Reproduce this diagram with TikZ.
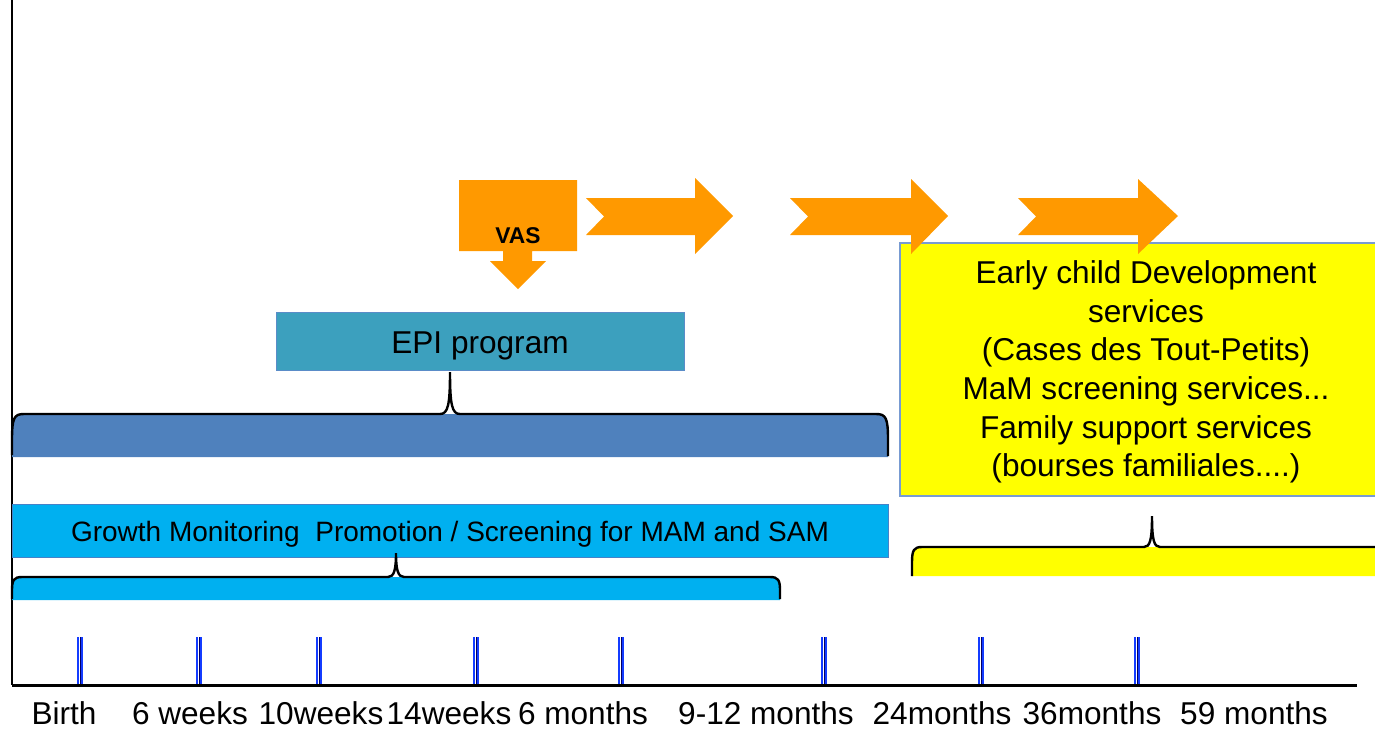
\documentclass[tikz,border=0pt]{standalone}
\usepackage{fontspec}
\setmainfont{Liberation Sans}
\definecolor{orng}{RGB}{255,153,0}
\definecolor{epi}{RGB}{60,160,190}
\definecolor{epiline}{RGB}{90,140,200}
\definecolor{dblue}{RGB}{79,129,189}
\definecolor{cyanb}{RGB}{0,176,240}
\definecolor{cyanline}{RGB}{70,130,200}
\definecolor{ylw}{RGB}{255,255,0}
\definecolor{yline}{RGB}{120,155,210}
\definecolor{tickblue}{RGB}{20,60,255}
\begin{document}
\begin{tikzpicture}[x=0.5pt,y=-0.5pt,
  bigtext/.style={font=\fontsize{15.8}{19.3}\selectfont, inner sep=0pt, align=center},
  gmtext/.style={font=\fontsize{14}{17}\selectfont, inner sep=0pt},
  vastext/.style={font=\fontsize{11.4}{13}\selectfont\bfseries, inner sep=0pt},
  bracestroke/.style={draw=black, line width=1.2pt},
  tickline/.style={draw=tickblue, line width=1pt},
  arrowshape/.style={fill=orng, draw=none}]
\useasboundingbox (0,0) rectangle (1375,729);

% axes
\coordinate (yt) at (12,0);
\coordinate (o) at (12,685);
\coordinate (xe) at (1357,685);
\draw[line width=1pt] (yt) -- (o);
\draw[line width=1.5pt] (o) -- (xe);

% ticks
\foreach \x in {80,199,319,476,621,824,981,1137}{
  \draw[tickline] (\x-1.7,637) -- (\x-1.7,684);
  \draw[tickline] (\x+1.7,637) -- (\x+1.7,684);
  \draw[draw=black!60!blue, line width=0.5pt] (\x,637) -- (\x,684);
}

% axis labels
\node[bigtext] (l1) at (64,713) {Birth};
\node[bigtext] (l2) at (190,713) {6 weeks};
\node[bigtext] (l3) at (321,713) {10weeks};
\node[bigtext] (l4) at (449,713) {14weeks};
\node[bigtext] (l5) at (583,713) {6 months};
\node[bigtext] (l6) at (766,713) {9-12 months};
\node[bigtext] (l7) at (942,713) {24months};
\node[bigtext] (l8) at (1092,713) {36months};
\node[bigtext] (l9) at (1254,713) {59 months};

% dark blue brace band
\fill[dblue] (12,457) -- (12,440) .. controls (12,418) and (14,414) .. (24,414)
  -- (876,414) .. controls (886,414) and (888,418) .. (888,440) -- (888,457) -- cycle;
\draw[bracestroke] (12,455) -- (12,440) .. controls (12,418) and (14,414) .. (24,414)
  -- (440,414) .. controls (448,414) and (450,405) .. (450,372)
  .. controls (450,405) and (452,414) .. (460,414)
  -- (876,414) .. controls (886,414) and (888,418) .. (888,440) -- (888,456);

% EPI box
\node[draw=epiline, fill=epi, line width=0.5pt, minimum width=204pt, minimum height=29pt, inner sep=0pt] (epi) at (480,341) {};
\node[bigtext] (epit) at (480,346) {EPI program};

% growth monitoring box
\node[draw=cyanline, fill=cyanb, line width=0.5pt, minimum width=438pt, minimum height=26.5pt, inner sep=0pt] (gm) at (450,530.5) {};
\node[gmtext] (gmt) at (450,534) {Growth Monitoring\ \ Promotion / Screening for MAM and SAM};

% cyan brace band
\fill[cyanb] (12,600) -- (12,590) .. controls (12,580) and (14,577) .. (22,577)
  -- (770,577) .. controls (778,577) and (780,580) .. (780,590) -- (780,600) -- cycle;
\draw[bracestroke] (12,599) -- (12,590) .. controls (12,580) and (14,577) .. (22,577)
  -- (388,577) .. controls (394,577) and (396,570) .. (396,553)
  .. controls (396,570) and (398,577) .. (404,577)
  -- (770,577) .. controls (778,577) and (780,580) .. (780,590) -- (780,599);

% yellow box
\node[draw=yline, fill=ylw, line width=0.7pt, minimum width=238pt, minimum height=126.5pt, inner sep=0pt] (eb) at (1138,369.5) {};
\node[bigtext] (ebt) at (1146,372) {Early child Development\\services\\ (Cases des Tout-Petits)\\MaM screening services...\\Family support services\\(bourses familiales....)};

% yellow brace band
\fill[ylw] (912,576) -- (912,562) .. controls (912,550) and (914,547) .. (922,547) -- (1375,547) -- (1375,576) -- cycle;
\draw[bracestroke] (912,576) -- (912,562) .. controls (912,550) and (914,547) .. (922,547)
  -- (1144,547) .. controls (1150,547) and (1152,540) .. (1152,516)
  .. controls (1152,540) and (1154,547) .. (1160,547) -- (1375,547);

% VAS callout
\fill[orng] (459,180) -- (577,180) -- (577,251) -- (532,251) -- (532,261) -- (546,261)
  -- (518,289) -- (490,261) -- (503,261) -- (503,251) -- (459,251) -- cycle;
\node[vastext] (vas) at (518,236) {VAS};

% chevron arrows
\fill[arrowshape] (586,198) -- (695,198) -- (695,178) -- (733,216) -- (695,254) -- (695,235) -- (586,235) -- (604,216.5) -- cycle;
\fill[arrowshape] (790,198) -- (911,198) -- (911,179) -- (948,216) -- (911,254) -- (911,235) -- (790,235) -- (808,216.5) -- cycle;
\fill[arrowshape] (1018,198) -- (1138,198) -- (1138,179) -- (1178,216) -- (1138,254) -- (1138,235) -- (1018,235) -- (1036,216.5) -- cycle;
\end{tikzpicture}
\end{document}
